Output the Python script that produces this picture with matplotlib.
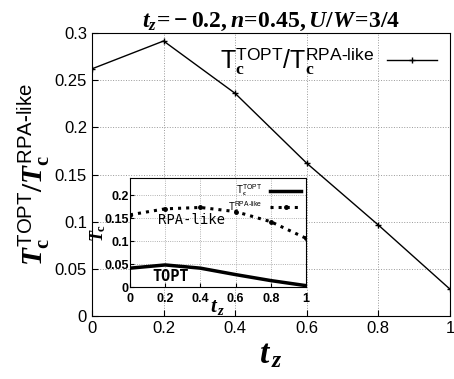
import matplotlib.pyplot as plt

plt.rcParams['mathtext.fontset'] = 'custom'
plt.rcParams['mathtext.it'] = 'Liberation Serif:italic:bold'
plt.rcParams['mathtext.rm'] = 'Liberation Serif:bold'
plt.rcParams['mathtext.sf'] = 'Liberation Sans'
plt.rcParams['font.family'] = 'Liberation Sans'

tz = [0, 0.2, 0.4, 0.6, 0.8, 1.0]
ratio = [0.262, 0.2915, 0.236, 0.162, 0.0965, 0.0286]
tc_rpa = [0.157, 0.170, 0.173, 0.164, 0.142, 0.106]
tc_topt = [0.041, 0.048, 0.041, 0.027, 0.014, 0.003]

fig = plt.figure(figsize=(4.54, 3.79), dpi=100)
ax = fig.add_axes([0.2026, 0.166, 0.7884, 0.747])
ax.plot(tz, ratio, 'k-', marker='+', ms=4, lw=1,
        label=r'$\mathsf{T}_{\mathrm{c}}^{\mathsf{TOPT}}\mathsf{/T}_{\mathrm{c}}^{\mathsf{RPA\text{-}like}}$')
ax.set_xlim(0, 1)
ax.set_ylim(0, 0.3)
ax.set_xticks([0, 0.2, 0.4, 0.6, 0.8, 1])
ax.set_xticklabels(['0', '0.2', '0.4', '0.6', '0.8', '1'])
ax.set_yticks([0, 0.05, 0.1, 0.15, 0.2, 0.25, 0.3])
ax.set_yticklabels(['0', '0.05', '0.1', '0.15', '0.2', '0.25', '0.3'])
ax.tick_params(labelsize=12, direction='in', length=4)
ax.grid(True, ls=':', color='#999999', lw=0.7)
ax.set_xlabel(r'$t_{\,z}$', fontsize=24, labelpad=2)
ax.set_ylabel(r'$T_{\mathrm{c}}^{\mathsf{TOPT}}/T_{\mathrm{c}}^{\mathsf{RPA\text{-}like}}$',
              fontsize=21, labelpad=2)
ax.set_title(r'$t_z\!=\!-0.2,n\!=\!0.45,U/W\!=\!3/4$', fontsize=17, pad=4)
ax.legend(loc='upper right', frameon=False, fontsize=18, markerfirst=False,
          handlelength=2.0, handletextpad=0.5, borderaxespad=0.1)

ins = fig.add_axes([0.2863, 0.2427, 0.3877, 0.2876])
ins.plot(tz, tc_topt, 'k-', lw=2.5, label=r'$\mathsf{T}_{\mathrm{c}}^{\mathsf{TOPT}}$')
ins.plot(tz, tc_rpa, 'k:', lw=2.2, marker='o', ms=2.5,
         label=r'$\mathsf{T}_{\mathrm{c}}^{\mathsf{RPA\text{-}like}}$')
ins.set_xlim(0, 1)
ins.set_ylim(0, 0.237)
ins.set_xticks([0, 0.2, 0.4, 0.6, 0.8, 1])
ins.set_xticklabels(['0', '0.2', '0.4', '0.6', '0.8', '1'])
ins.set_yticks([0, 0.05, 0.1, 0.15, 0.2])
ins.set_yticklabels(['0', '0.05', '0.1', '0.15', '0.2'])
ins.tick_params(labelsize=9, direction='in', length=3, pad=1)
ins.tick_params(axis='x', pad=4)
for lab in ins.get_xticklabels() + ins.get_yticklabels():
    lab.set_fontweight('bold')
ins.grid(True, ls=':', color='#999999', lw=0.6)
ins.set_xlabel(r'$t_{\,z}$', fontsize=15, labelpad=-5)
ins.set_ylabel(r'$T_{\mathrm{c}}$', fontsize=13, labelpad=-3)
ins.legend(loc='upper right', frameon=False, fontsize=7, handlelength=3.2,
           markerfirst=False, borderaxespad=0.1, labelspacing=0.05)
ins.text(0.16, 0.146, 'RPA-like', fontsize=10, va='center',
         family='DejaVu Sans Mono')
ins.text(0.13, 0.022, 'TOPT', fontsize=11, va='center', weight='bold',
         family='DejaVu Sans Mono')

fig.savefig('out.png', dpi=100)
